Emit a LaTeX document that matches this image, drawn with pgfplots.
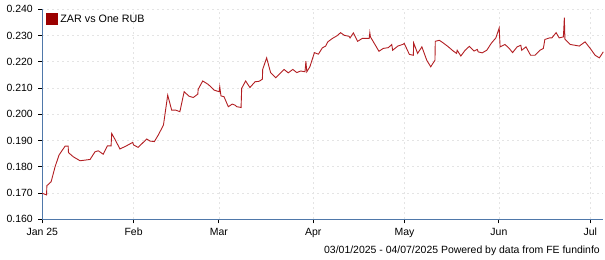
\documentclass[border=0pt]{standalone}
\usepackage{pgfplots}
\pgfplotsset{compat=1.18}
\usepackage{fontspec}
\setmainfont{Liberation Sans}
\definecolor{linered}{RGB}{178,30,34}
\definecolor{legred}{RGB}{155,0,0}
\definecolor{axisblue}{RGB}{79,120,170}
\definecolor{gridgray}{RGB}{228,228,228}
\begin{document}
\begin{tikzpicture}
\path[use as bounding box] (-42.3bp,-40.7bp) rectangle (562.7bp,219.3bp);
\begin{axis}[
  scale only axis,
  width=561bp, height=210bp,
  xmin=1, xmax=185.3,
  ymin=0.160, ymax=0.240,
  axis x line*=bottom, axis y line*=left,
  axis line style={axisblue, line width=0.9bp},
  xtick={1,31,59,90,120,151,181},
  xticklabels={Jan 25,Feb,Mar,Apr,May,Jun,Jul},
  ytick={0.16,0.17,0.18,0.19,0.20,0.21,0.22,0.23,0.24},
  tick align=outside,
  major tick length=4bp,
  tick style={black, line width=0.8bp},
  grid=major,
  major grid style={gridgray, dash pattern=on 2bp off 3bp, line width=0.7bp},
  /pgf/number format/.cd, fixed, fixed zerofill, precision=3, assume math mode=true,
  /pgfplots/.cd,
  scaled y ticks=false,
  ticklabel style={font=\fontsize{10.5}{12}\selectfont, text=black},
  yticklabel style={xshift=-2bp},
  xticklabel style={yshift=-1bp},
  legend style={draw=none, fill=none, at={(0,1)}, anchor=north west,
    font=\fontsize{10.8}{12}\selectfont, xshift=1bp, yshift=-1bp},
  legend cell align=left,
  clip=false,
]
\addplot[linered, line width=0.9bp, mark=none,
  legend image code/.code={\fill[legred] (0bp,-5.5bp) rectangle (11bp,5.5bp);}]
 coordinates {
(1.0,0.1699) (2.4,0.1693) (2.5,0.1728) (3.9,0.1743) (5.2,0.1800) (6.5,0.1845)
(8.5,0.1879) (9.5,0.1879) (9.6,0.1854) (11.2,0.1838) (13.4,0.1823) (16.7,0.1828)
(18.3,0.1857) (19.4,0.1861) (21.0,0.1848) (22.4,0.1880) (23.6,0.1880) (23.8,0.1927)
(24.9,0.1904) (26.5,0.1868) (28.5,0.1879) (30.7,0.1893) (31.0,0.1883) (32.5,0.1874)
(35.3,0.1906) (36.4,0.1898) (37.8,0.1896) (39.1,0.1921) (40.8,0.1959) (42.2,0.2073)
(43.5,0.2016) (44.8,0.2016) (46.2,0.2010) (47.6,0.2086) (49.2,0.2069) (50.6,0.2064)
(52.1,0.2077) (52.2,0.2095) (53.7,0.2127) (55.5,0.2114) (57.5,0.2092) (59.1,0.2086)
(59.3,0.2105) (59.7,0.2070) (60.7,0.2067) (62.1,0.2029) (63.4,0.2039) (64.3,0.2035)
(64.9,0.2029) (66.3,0.2026) (66.5,0.2099) (67.8,0.2127) (69.2,0.2102) (70.9,0.2124)
(72.3,0.2126) (73.3,0.2134) (73.4,0.2171) (74.7,0.2215) (76.0,0.2159) (77.7,0.2139)
(79.1,0.2156) (80.4,0.2171) (81.8,0.2158) (83.3,0.2171) (84.6,0.2159) (85.9,0.2165)
(87.3,0.2162) (87.6,0.2202) (87.9,0.2162) (88.9,0.2181) (90.4,0.2235) (91.7,0.2229)
(93.0,0.2253) (94.1,0.2260) (94.8,0.2276) (96.3,0.2289) (97.8,0.2299) (99.0,0.2311)
(100.2,0.2301) (101.8,0.2297) (102.1,0.2291) (103.2,0.2310) (104.6,0.2278) (106.1,0.2289)
(108.4,0.2289) (108.6,0.2311) (108.8,0.2295) (111.6,0.2240) (113.0,0.2251) (114.7,0.2254)
(115.8,0.2266) (116.1,0.2244) (117.8,0.2260) (119.6,0.2267) (119.9,0.2270) (121.6,0.2228)
(122.9,0.2225) (123.0,0.2272) (124.3,0.2232) (125.7,0.2257) (127.3,0.2206) (128.6,0.2181)
(130.0,0.2206) (130.1,0.2278) (131.4,0.2282) (132.7,0.2272) (134.4,0.2257) (136.0,0.2241)
(137.1,0.2232) (137.3,0.2244) (138.5,0.2222) (139.9,0.2244) (141.3,0.2259) (142.8,0.2241)
(143.9,0.2247) (144.2,0.2238) (145.5,0.2234) (147.0,0.2244) (148.6,0.2272) (150.0,0.2291)
(151.1,0.2329) (151.4,0.2257) (153.0,0.2266) (154.4,0.2251) (155.5,0.2235) (157.0,0.2257)
(158.2,0.2263) (158.5,0.2244) (159.9,0.2257) (161.4,0.2225) (162.9,0.2225) (164.5,0.2244)
(165.6,0.2251) (166.1,0.2285) (167.6,0.2291) (168.4,0.2291) (169.8,0.2311) (170.8,0.2291)
(172.2,0.2295) (172.5,0.2368) (172.7,0.2286) (174.4,0.2266) (176.0,0.2263) (177.4,0.2260)
(179.3,0.2276) (181.0,0.2251) (182.6,0.2225) (184.0,0.2215) (185.3,0.2238)
};
\addlegendentry{ZAR vs One RUB}
\end{axis}
\node[anchor=base east, font=\fontsize{10.5}{12}\selectfont, inner sep=0pt] at (557.7bp,-33.7bp) {03/01/2025 - 04/07/2025 Powered by data from FE fundinfo};
\end{tikzpicture}
\end{document}
